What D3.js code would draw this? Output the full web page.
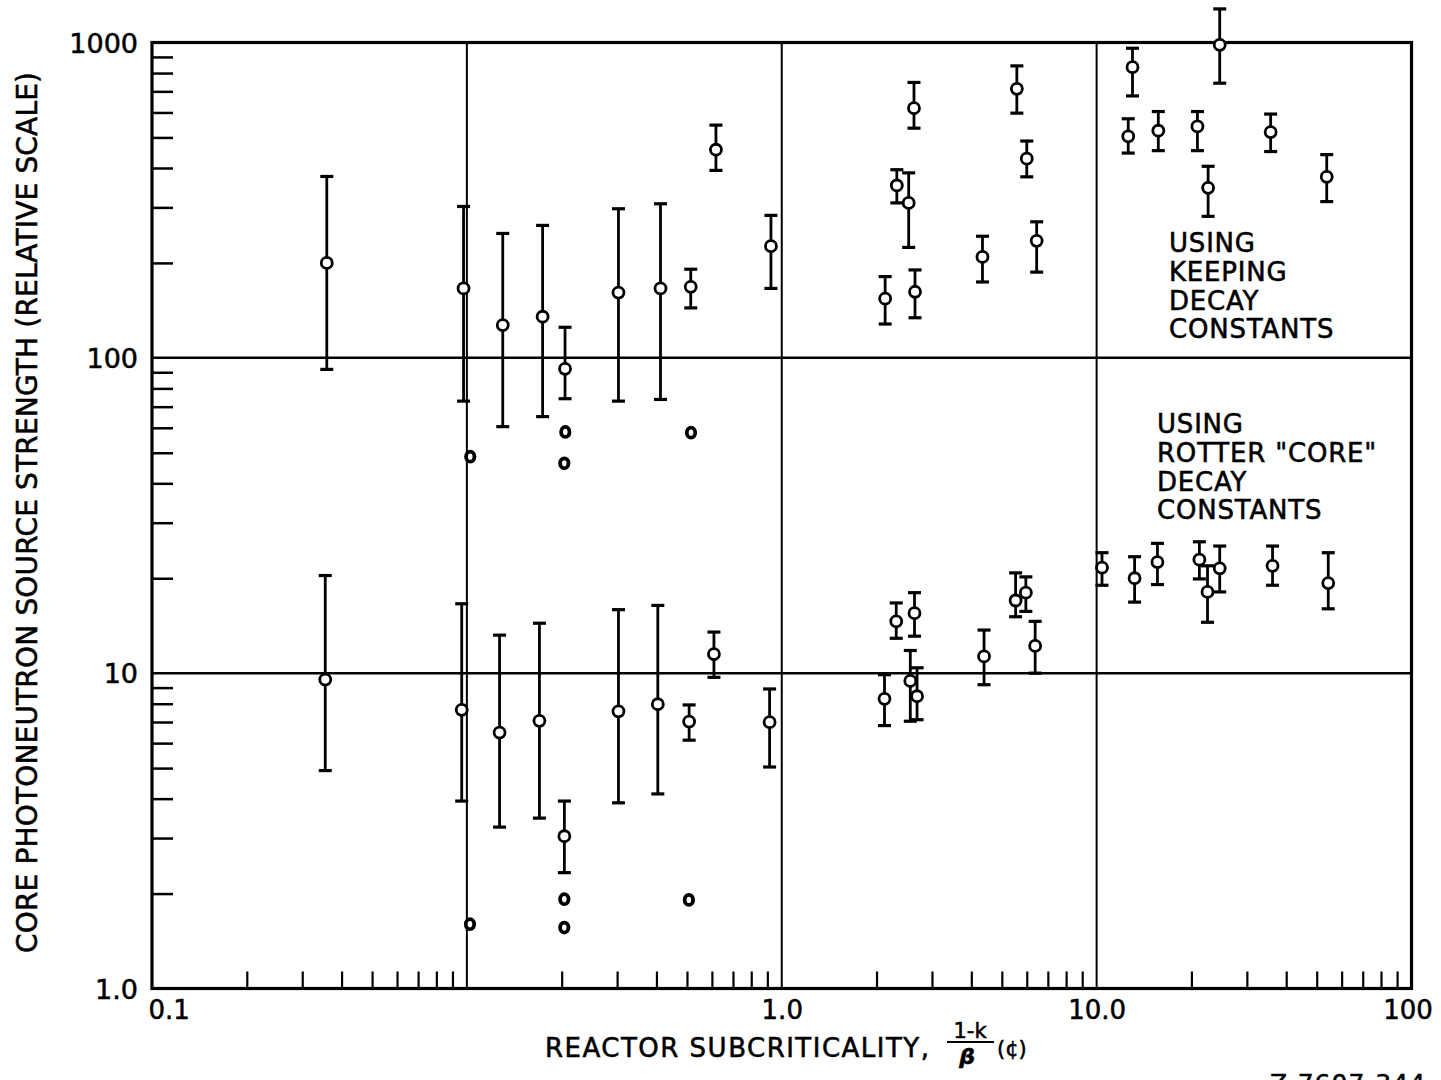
<!DOCTYPE html>
<html>
<head>
<meta charset="utf-8">
<script src="https://cdn.jsdelivr.net/npm/d3@7"></script>
<style>
  body { margin: 0; background: #fff; }
  svg { display: block; }
  text { font-family: "DejaVu Sans", sans-serif; fill: #000; stroke: #000; stroke-width: 0.55px; }
</style>
</head>
<body>
<svg id="chart" width="1441" height="1080"></svg>
<script>
// tick labels (the paper labels the left edge "0.1")
var xTickValues = [0.01, 1, 10, 100];
var xTickLabels = ["0.1", "1.0", "10.0", "100"];
var yTickValues = [1, 10, 100, 1000];
var yTickLabels = ["1.0", "10", "100", "1000"];

// using Keeping decay constants
var keepingX  = [0.0359, 0.0976, 0.130, 0.174, 0.205, 0.303, 0.412, 0.514, 0.618, 0.924, 2.13, 2.32, 2.53, 2.63, 2.65, 4.34, 5.58, 6.00, 6.45, 12.6, 13.0, 15.7, 20.9, 22.6, 24.6, 35.7, 53.8];
var keepingY  = [200, 166, 127, 135, 92.3, 161, 166, 168, 457, 226, 154, 352, 310, 619, 162, 209, 713, 428, 235, 504, 835, 525, 542, 346, 983, 520, 375];
var keepingHi = [376, 302, 248, 263, 125, 297, 308, 191, 547, 283, 181, 395, 386, 747, 190, 243, 843, 487, 270, 573, 959, 604, 604, 405, 1278, 593, 441];
var keepingLo = [91.9, 72.9, 60.5, 65.1, 74.2, 72.9, 73.8, 144, 393, 166, 128, 310, 224, 535, 134, 174, 597, 375, 187, 446, 677, 454, 454, 281, 743, 451, 313];
var keepingExtraX = [0.1025, 0.2054, 0.2039, 0.515];
var keepingExtraY = [48.6, 58.2, 46.3, 57.9];

// using Rotter "core" decay constants
var rotterX  = [0.0355, 0.0963, 0.127, 0.170, 0.204, 0.303, 0.404, 0.508, 0.609, 0.915, 2.12, 2.31, 2.56, 2.64, 2.69, 4.39, 5.53, 5.96, 6.38, 10.4, 13.2, 15.6, 21.2, 22.5, 24.6, 36.2, 54.4];
var rotterY  = [9.54, 7.65, 6.48, 7.06, 3.04, 7.57, 7.97, 7.02, 11.5, 6.99, 8.29, 14.6, 9.45, 15.5, 8.45, 11.3, 17.0, 18.0, 12.2, 21.6, 20.0, 22.5, 22.9, 18.1, 21.5, 21.9, 19.3];
var rotterHi = [20.4, 16.6, 13.2, 14.4, 3.93, 15.9, 16.4, 7.93, 13.5, 8.91, 9.89, 16.7, 11.8, 18.0, 10.4, 13.7, 20.8, 20.2, 14.6, 24.1, 23.4, 25.8, 26.1, 21.9, 25.3, 25.3, 24.1];
var rotterLo = [4.91, 3.93, 3.25, 3.47, 2.33, 3.88, 4.14, 6.13, 9.70, 5.04, 6.82, 12.9, 7.04, 13.1, 7.12, 9.19, 15.1, 15.7, 10.0, 19.0, 16.8, 19.1, 19.9, 14.5, 18.1, 19.0, 16.0];
var rotterExtraX = [0.1023, 0.2039, 0.2039, 0.507];
var rotterExtraY = [1.60, 1.92, 1.56, 1.91];

var plotLeft = 152, plotRight = 1411.5, plotTop = 42.5, plotBottom = 988.5;

var svg = d3.select("#chart");

var x = d3.scaleLog().domain([0.01, 100]).range([plotLeft, plotRight]);
var y = d3.scaleLog().domain([1, 1000]).range([plotBottom, plotTop]);

//
// grid lines at the inner decades
//
svg.append("g").selectAll("line")
  .data([0.1, 1, 10])
  .enter().append("line")
  .attr("x1", x).attr("x2", x)
  .attr("y1", plotTop).attr("y2", plotBottom)
  .attr("stroke", "#000").attr("stroke-width", 2);

svg.append("g").selectAll("line")
  .data([10, 100])
  .enter().append("line")
  .attr("x1", plotLeft).attr("x2", plotRight)
  .attr("y1", y).attr("y2", y)
  .attr("stroke", "#000").attr("stroke-width", 2.5);

//
// minor ticks, pointing into the plot
//
function isMinor(d) {
  return Math.abs(Math.log10(d) - Math.round(Math.log10(d))) > 1e-6;
}

svg.append("g")
  .attr("transform", "translate(0," + plotBottom + ")")
  .call(d3.axisBottom(x).tickValues(x.ticks().filter(isMinor)).tickSize(-17).tickFormat(""))
  .call(function (g) {
    g.select(".domain").remove();
    g.selectAll("line").attr("stroke-width", 2.2);
  });

svg.append("g")
  .attr("transform", "translate(" + plotLeft + ",0)")
  .call(d3.axisLeft(y).tickValues(y.ticks().filter(isMinor)).tickSize(-21).tickFormat(""))
  .call(function (g) {
    g.select(".domain").remove();
    g.selectAll("line").attr("stroke-width", 2.5);
  });

// frame
svg.append("rect")
  .attr("x", plotLeft).attr("y", plotTop)
  .attr("width", plotRight - plotLeft).attr("height", plotBottom - plotTop)
  .attr("fill", "none").attr("stroke", "#000").attr("stroke-width", 3.2);

//
// tick labels
//
svg.append("g")
  .attr("transform", "translate(0," + plotBottom + ")")
  .call(d3.axisBottom(x).tickValues(xTickValues).tickSize(0).tickPadding(12)
    .tickFormat(function (d, i) { return xTickLabels[i]; }))
  .call(function (g) {
    g.select(".domain").remove();
    g.selectAll("text")
      .attr("font-family", "DejaVu Sans").attr("font-size", 26)
      .attr("dy", "0.71em")
      .attr("text-anchor", function (d, i) { return i === 0 ? "start" : "middle"; })
      .attr("dx", function (d, i) { return i === 0 ? -4 : (i === 3 ? -4 : 0); });
  });

svg.append("g")
  .attr("transform", "translate(" + plotLeft + ",0)")
  .call(d3.axisLeft(y).tickValues(yTickValues).tickSize(0).tickPadding(14)
    .tickFormat(function (d, i) { return yTickLabels[i]; }))
  .call(function (g) {
    g.select(".domain").remove();
    g.selectAll("text")
      .attr("font-family", "DejaVu Sans").attr("font-size", 27)
      .attr("dy", "0.36em");
  });

//
// error bars and points
//
function drawSeries(xs, ys, los, his) {
  var rows = xs.map(function (d, i) {
    return { x: d, y: ys[i], lo: los[i], hi: his[i] };
  });
  var g = svg.append("g");
  var bars = g.selectAll(".bar").data(rows).enter().append("g").attr("class", "bar");
  bars.append("line")
    .attr("x1", function (d) { return x(d.x); })
    .attr("x2", function (d) { return x(d.x); })
    .attr("y1", function (d) { return y(d.lo); })
    .attr("y2", function (d) { return y(d.hi); })
    .attr("stroke", "#000").attr("stroke-width", 2.8);
  ["lo", "hi"].forEach(function (k) {
    bars.append("line")
      .attr("x1", function (d) { return x(d.x) - 6.5; })
      .attr("x2", function (d) { return x(d.x) + 6.5; })
      .attr("y1", function (d) { return y(d[k]); })
      .attr("y2", function (d) { return y(d[k]); })
      .attr("stroke", "#000").attr("stroke-width", 3.2);
  });
  bars.append("circle")
    .attr("cx", function (d) { return x(d.x); })
    .attr("cy", function (d) { return y(d.y); })
    .attr("r", 5.5)
    .attr("fill", "#fff").attr("stroke", "#000").attr("stroke-width", 2.8);
}

function drawExtras(xs, ys) {
  svg.append("g").selectAll("ellipse")
    .data(xs.map(function (d, i) { return { x: d, y: ys[i] }; }))
    .enter().append("ellipse")
    .attr("cx", function (d) { return x(d.x); })
    .attr("cy", function (d) { return y(d.y); })
    .attr("rx", 4.2).attr("ry", 5)
    .attr("fill", "#fff").attr("stroke", "#000").attr("stroke-width", 3.8);
}

drawSeries(keepingX, keepingY, keepingLo, keepingHi);
drawSeries(rotterX, rotterY, rotterLo, rotterHi);
drawExtras(keepingExtraX, keepingExtraY);
drawExtras(rotterExtraX, rotterExtraY);

//
// notes inside the plot
//
function note(lines, x0, y0) {
  var t = svg.append("text")
    .attr("font-size", 26).attr("letter-spacing", 0.8);
  lines.forEach(function (s, i) {
    t.append("tspan").attr("x", x0).attr("y", y0 + i * 28.8).text(s);
  });
}
note(["USING", "KEEPING", "DECAY", "CONSTANTS"], 1169, 252);
note(["USING", "ROTTER \"CORE\"", "DECAY", "CONSTANTS"], 1157, 433);

//
// axis titles
//
svg.append("text")
  .attr("transform", "translate(37,512.5) rotate(-90)")
  .attr("text-anchor", "middle")
  .attr("font-size", 28)
  .attr("textLength", 881).attr("lengthAdjust", "spacing")
  .text("CORE PHOTONEUTRON SOURCE STRENGTH (RELATIVE SCALE)");

svg.append("text")
  .attr("x", 545).attr("y", 1057)
  .attr("font-size", 26)
  .attr("textLength", 384).attr("lengthAdjust", "spacing")
  .text("REACTOR SUBCRITICALITY,");

svg.append("text")
  .attr("x", 970).attr("y", 1038)
  .attr("text-anchor", "middle").attr("font-size", 21)
  .text("1-k");
svg.append("line")
  .attr("x1", 947).attr("x2", 994)
  .attr("y1", 1042).attr("y2", 1042)
  .attr("stroke", "#000").attr("stroke-width", 2);
svg.append("text")
  .attr("x", 967).attr("y", 1064)
  .attr("text-anchor", "middle").attr("font-size", 22)
  .attr("font-weight", "bold").attr("font-style", "italic")
  .text("β");
svg.append("text")
  .attr("x", 997).attr("y", 1056)
  .attr("font-size", 21)
  .text("(¢)");

// drawing number, cut by the bottom edge as in the original
svg.append("text")
  .attr("x", 1270).attr("y", 1092)
  .attr("font-size", 25).attr("letter-spacing", 1)
  .text("Z-7607-344");
</script>
</body>
</html>
